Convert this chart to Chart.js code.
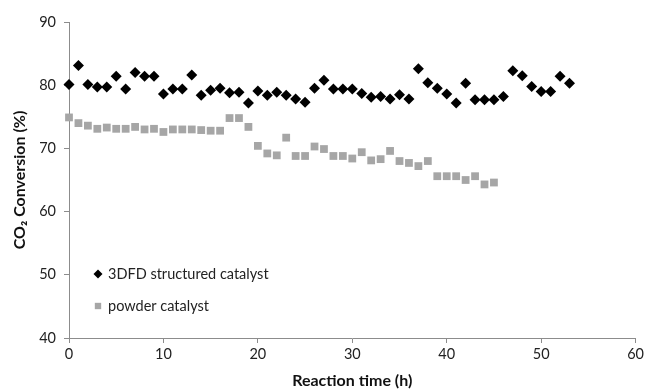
<!DOCTYPE html>
<html>
<head>
<meta charset="utf-8">
<script src="https://cdn.jsdelivr.net/npm/chart.js@4/dist/chart.umd.min.js"></script>
<style>
  html, body { margin: 0; padding: 0; background: #fff; }
  #wrap { width: 647px; height: 390px; }
</style>
</head>
<body>
<div id="wrap"><canvas id="chartConv"></canvas></div>
<script>
// data (hours, % conversion)
var structuredHours = [];
for (var i = 0; i <= 53; i++) structuredHours.push(i);
var structuredValues = [80.1, 83.1, 80.1, 79.7, 79.7, 81.4, 79.4, 82.0, 81.4, 81.4,
  78.6, 79.4, 79.4, 81.6, 78.4, 79.2, 79.5, 78.8, 78.9, 77.2,
  79.1, 78.4, 78.9, 78.4, 77.8, 77.3, 79.5, 80.8, 79.4, 79.4,
  79.4, 78.7, 78.1, 78.2, 77.8, 78.5, 77.8, 82.6, 80.4, 79.5,
  78.6, 77.2, 80.3, 77.7, 77.7, 77.7, 78.2, 82.3, 81.5, 79.8,
  79.0, 79.0, 81.4, 80.3];

var powderHours = [];
for (var j = 0; j <= 45; j++) powderHours.push(j);
var powderValues = [74.9, 74.0, 73.6, 73.1, 73.3, 73.1, 73.1, 73.4, 73.0, 73.1,
  72.6, 73.0, 73.0, 73.0, 72.9, 72.8, 72.8, 74.8, 74.8, 73.4,
  70.4, 69.2, 68.9, 71.7, 68.8, 68.8, 70.3, 69.9, 68.8, 68.8,
  68.4, 69.4, 68.1, 68.3, 69.6, 68.0, 67.7, 67.2, 68.0, 65.6,
  65.6, 65.6, 65.0, 65.6, 64.3, 64.6];

var seriesNames = ['3DFD structured catalyst', 'powder catalyst'];
var xTicks = [0, 10, 20, 30, 40, 50, 60];
var yTicks = [40, 50, 60, 70, 80, 90];

function toPoints(xs, ys) {
  return xs.map(function (x, k) { return { x: x, y: ys[k] }; });
}

var fontFam = 'Lato, "Liberation Sans", sans-serif';
var axisGray = '#8c8c8c';

// legend drawn inside the plot, like the original
var insideLegend = {
  id: 'insideLegend',
  afterDraw: function (chart) {
    var ctx = chart.ctx;
    var rows = [{ y: 274, ds: 0 }, { y: 306, ds: 1 }];
    ctx.save();
    rows.forEach(function (r) {
      var ds = chart.data.datasets[r.ds];
      ctx.fillStyle = ds.backgroundColor;
      ctx.strokeStyle = ds.backgroundColor;
      Chart.helpers.drawPoint(ctx, {
        pointStyle: ds.pointStyle,
        radius: 4.5,
        rotation: 0,
        borderWidth: 0
      }, 98, r.y);
      ctx.fillStyle = '#222';
      ctx.font = '14.5px ' + fontFam;
      ctx.textBaseline = 'middle';
      ctx.fillText(ds.label, 108, r.y);
    });
    ctx.restore();
  }
};

new Chart(document.getElementById('chartConv'), {
  type: 'scatter',
  data: {
    datasets: [
      {
        label: seriesNames[0],
        data: toPoints(structuredHours, structuredValues),
        pointStyle: 'rectRot',
        pointRadius: 5.5,
        backgroundColor: '#000',
        borderColor: '#000',
        borderWidth: 0,
        clip: false
      },
      {
        label: seriesNames[1],
        data: toPoints(powderHours, powderValues),
        pointStyle: 'rect',
        pointRadius: 5.5,
        backgroundColor: '#a6a6a6',
        borderColor: '#a6a6a6',
        borderWidth: 0,
        clip: false
      }
    ]
  },
  options: {
    responsive: true,
    maintainAspectRatio: false,
    animation: false,
    layout: { padding: { top: 22, right: 10, left: 0, bottom: 0 } },
    plugins: {
      legend: { display: false },
      tooltip: { enabled: false }
    },
    scales: {
      x: {
        type: 'linear',
        min: 0, max: 60,
        afterBuildTicks: function (s) { s.ticks = xTicks.map(function (v) { return { value: v }; }); },
        afterFit: function (s) { s.height = 52; },
        grid: { display: true, drawOnChartArea: false, drawTicks: true, tickLength: 5, color: axisGray },
        border: { display: true, color: axisGray, width: 1 },
        ticks: { color: '#222', font: { family: fontFam, size: 14.5 }, padding: 3, maxRotation: 0 },
        title: {
          display: true, text: 'Reaction time (h)', color: '#111',
          font: { family: fontFam, size: 16, weight: 'bold' }, padding: { top: 0, bottom: 0 }
        }
      },
      y: {
        min: 40, max: 90,
        afterBuildTicks: function (s) { s.ticks = yTicks.map(function (v) { return { value: v }; }); },
        afterFit: function (s) { s.width = 69; },
        grid: { display: true, drawOnChartArea: false, drawTicks: true, tickLength: 5, color: axisGray },
        border: { display: true, color: axisGray, width: 1 },
        ticks: { color: '#222', font: { family: fontFam, size: 14.5 }, padding: 8 },
        title: {
          display: true, text: 'CO\u2082 Conversion (%)', color: '#111',
          font: { family: fontFam, size: 16, weight: 'bold' }, padding: { top: 10, bottom: 4 }
        }
      }
    }
  },
  plugins: [insideLegend]
});
</script>
</body>
</html>
